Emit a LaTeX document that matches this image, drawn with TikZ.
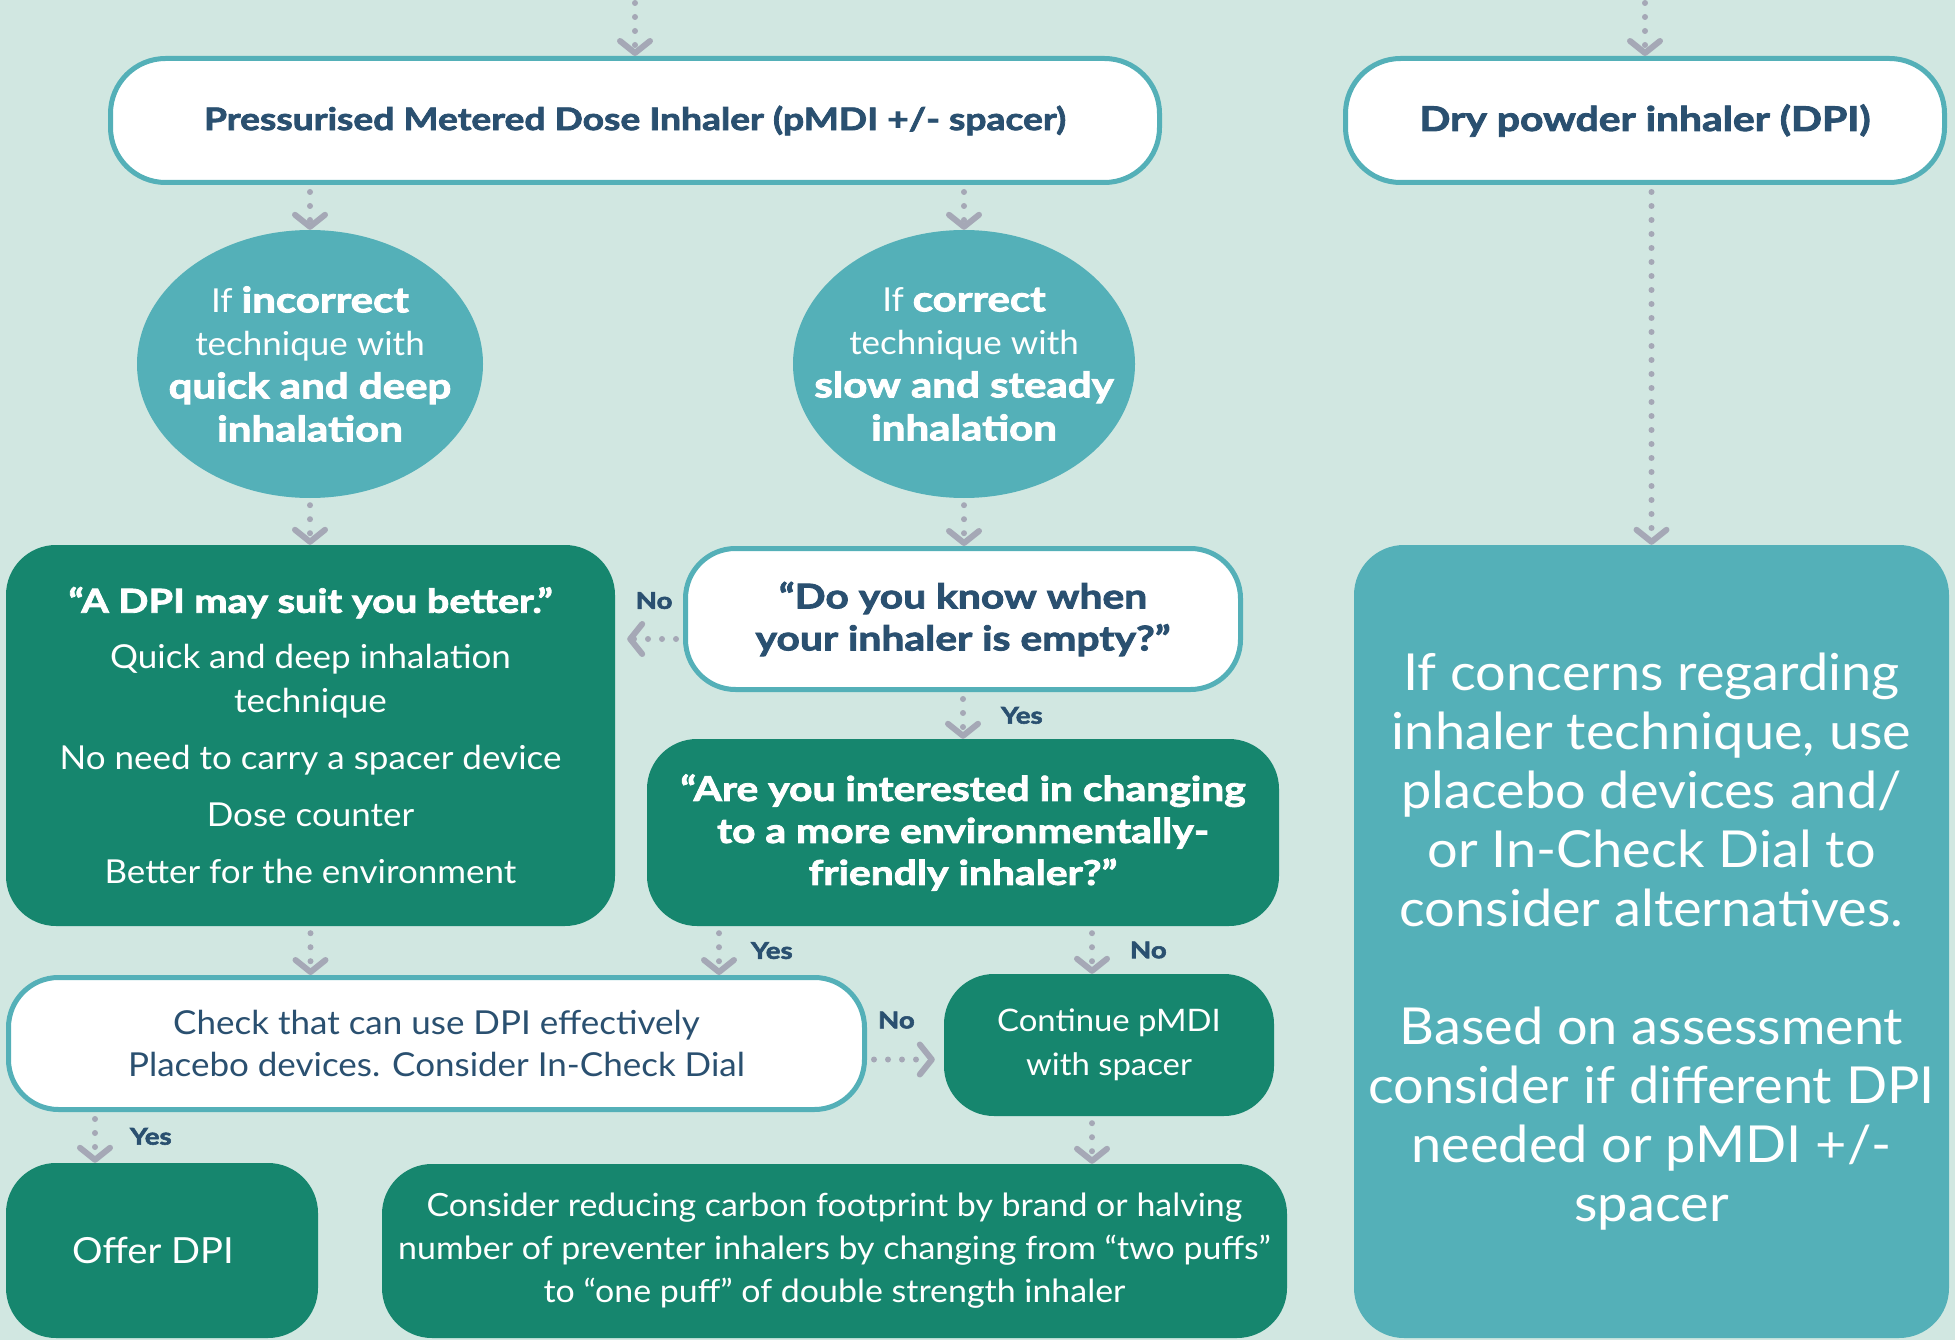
\documentclass[tikz,border=0pt]{standalone}
\usepackage{fontspec}
\setmainfont{Lato}[FakeStretch=1.06,BoldFeatures={FakeStretch=1.2,FakeBold=2.5}]
\usetikzlibrary{arrows.meta,shapes.geometric}
\definecolor{mint}{HTML}{D1E7E1}
\definecolor{tealc}{HTML}{54B0B8}
\definecolor{dkgreen}{HTML}{16866E}
\definecolor{navy}{HTML}{2A5070}
\definecolor{arrowgrey}{HTML}{A5A8B6}
\newcommand{\fsz}[2]{\fontsize{#1}{#2}\selectfont}
\newcommand{\hv}[1]{{\fsz{35}{43}\bfseries #1}}

\begin{document}
\begin{tikzpicture}[x=1pt,y=-1pt,
  flow/.style={draw=arrowgrey,line width=6pt,line cap=round,dash pattern=on 0pt off 14pt,
    -{Straight Barb[length=12pt,width=30pt,round]},shorten <=7pt},
  hdr/.style={draw=tealc,line width=5pt,fill=white,rounded corners=55pt,text=navy,
    font=\fsz{31}{40}\bfseries,inner sep=0pt},
  ask/.style={draw=tealc,line width=5pt,fill=white,rounded corners=50pt,text=navy,
    align=center,inner sep=0pt},
  greenbox/.style={fill=dkgreen,rounded corners=50pt,text=white,align=center,inner sep=0pt},
  bubble/.style={ellipse,fill=tealc,text=white,align=center,inner sep=-30pt,font=\fsz{33}{43}},
  lbl/.style={text=navy,font=\fsz{23}{26}\bfseries,inner sep=0pt}]
\useasboundingbox (0,0) rectangle (1955,1340);
\fill[mint] (0,0) rectangle (1955,1340);

% top row
\coordinate (top1) at (635,0);
\coordinate (top2) at (1645,0);
\node[hdr,minimum width=1049pt,minimum height=124pt] (pmdi) at (635,120.5)
  {\raisebox{-2pt}{Pressurised Metered Dose Inhaler (pMDI +/- spacer)}};
\node[hdr,minimum width=599pt,minimum height=124pt,font=\fsz{34}{40}\bfseries] (dpi) at (1645,120.5)
  {\raisebox{-2pt}{Dry powder inhaler (DPI)}};

% technique
\node[bubble,minimum width=346pt,minimum height=268pt] (lell) at (310,364)
  {If \hv{incorrect}\\technique with\\\hv{quick and deep}\\\hv{inhalation}};
\node[bubble,minimum width=342pt,minimum height=268pt] (rell) at (964,364)
  {If \hv{correct}\\technique with\\\hv{slow and steady}\\\hv{inhalation}};

% questions
\node[greenbox,minimum width=609pt,minimum height=381pt,font=\fsz{33}{44}] (suit) at (310.5,735.5)
  {\textbf{“A DPI may suit you better.”}\\[12pt]
   Quick and deep inhalation\\technique\\[13pt]
   No need to carry a spacer device\\[13pt]
   Dose counter\\[13pt]
   Better for the environment};
\node[ask,minimum width=555pt,minimum height=141pt,font=\fsz{34}{42}\bfseries] (know) at (963,619)
  {“Do you know when\\your inhaler is empty?”};
\node[greenbox,minimum width=632pt,minimum height=187pt,font=\fsz{34}{42}\bfseries] (env) at (963,832.5)
  {“Are you interested in changing\\to a more environmentally-\\friendly inhaler?”};

% outcomes
\node[ask,minimum width=856pt,minimum height=132pt,font=\fsz{33}{42}] (check) at (436.5,1043.5)
  {Check that can use DPI effectively\\Placebo devices. Consider In-Check Dial};
\node[greenbox,minimum width=330pt,minimum height=142pt,font=\fsz{31}{44}] (cont) at (1109,1045)
  {Continue pMDI\\with spacer};
\node[greenbox,minimum width=312pt,minimum height=175pt,font=\fsz{36}{48}] (offer) at (162,1250.5)
  {Offer DPI\hspace*{18pt}};
\node[greenbox,minimum width=905pt,minimum height=174pt,font=\fsz{32}{43}] (cons) at (834.5,1251)
  {Consider reducing carbon footprint by brand or halving\\
   number of preventer inhalers by changing from “two puffs”\\
   to “one puff” of double strength inhaler};
\node[greenbox,fill=tealc,minimum width=595pt,minimum height=793pt,font=\fsz{51}{59}] (adv) at (1651.5,941.5)
  {If concerns regarding\\inhaler technique, use\\placebo devices and/\\or In-Check Dial to\\consider alternatives.\\[59pt]
   Based on assessment\\consider if different DPI\\needed or pMDI +/-\\spacer};

% connectors
\draw[flow,shorten <=3pt] (top1) -- (pmdi);
\draw[flow,shorten <=3pt] (top2) -- (dpi);
\draw[flow] (pmdi.south -| lell.north) -- (lell.north);
\draw[flow] (pmdi.south -| rell.north) -- (rell.north);
\draw[flow] (dpi.south -| adv.north) -- (adv.north);
\draw[flow] (lell.south) -- (lell.south |- suit.north);
\draw[flow] (rell.south) -- (rell.south |- know.north);
\draw[flow,shorten >=12pt] ([yshift=-20pt]know.west) -- ([yshift=-20pt]know.west -| suit.east)
  node[lbl,midway,above=27pt,xshift=5pt] {No};
\draw[flow] (know.south) -- (know.south |- env.north)
  node[lbl,midway,right=35pt] {Yes};
\draw[flow] (suit.south) -- (suit.south |- check.north);
\draw[flow] ([xshift=-244pt]env.south) -- ([xshift=-244pt]env.south |- check.north)
  node[lbl,midway,right=29pt] {Yes};
\draw[flow] ([xshift=129pt]env.south) -- ([xshift=-17pt]cont.north)
  node[lbl,midway,right=35pt] {No};
\draw[flow,shorten >=9pt] ([yshift=-16pt]check.east) -- ([yshift=-16pt]check.east -| cont.west)
  node[lbl,midway,above=28pt,xshift=-9pt] {No};
\draw[flow] ([xshift=-341.5pt]check.south) -- ([xshift=-67pt]offer.north)
  node[lbl,midway,right=32pt,yshift=1pt] {Yes};
\draw[flow] ([xshift=-17pt]cont.south) -- ([xshift=-17pt]cont.south |- cons.north);
\end{tikzpicture}
\end{document}
